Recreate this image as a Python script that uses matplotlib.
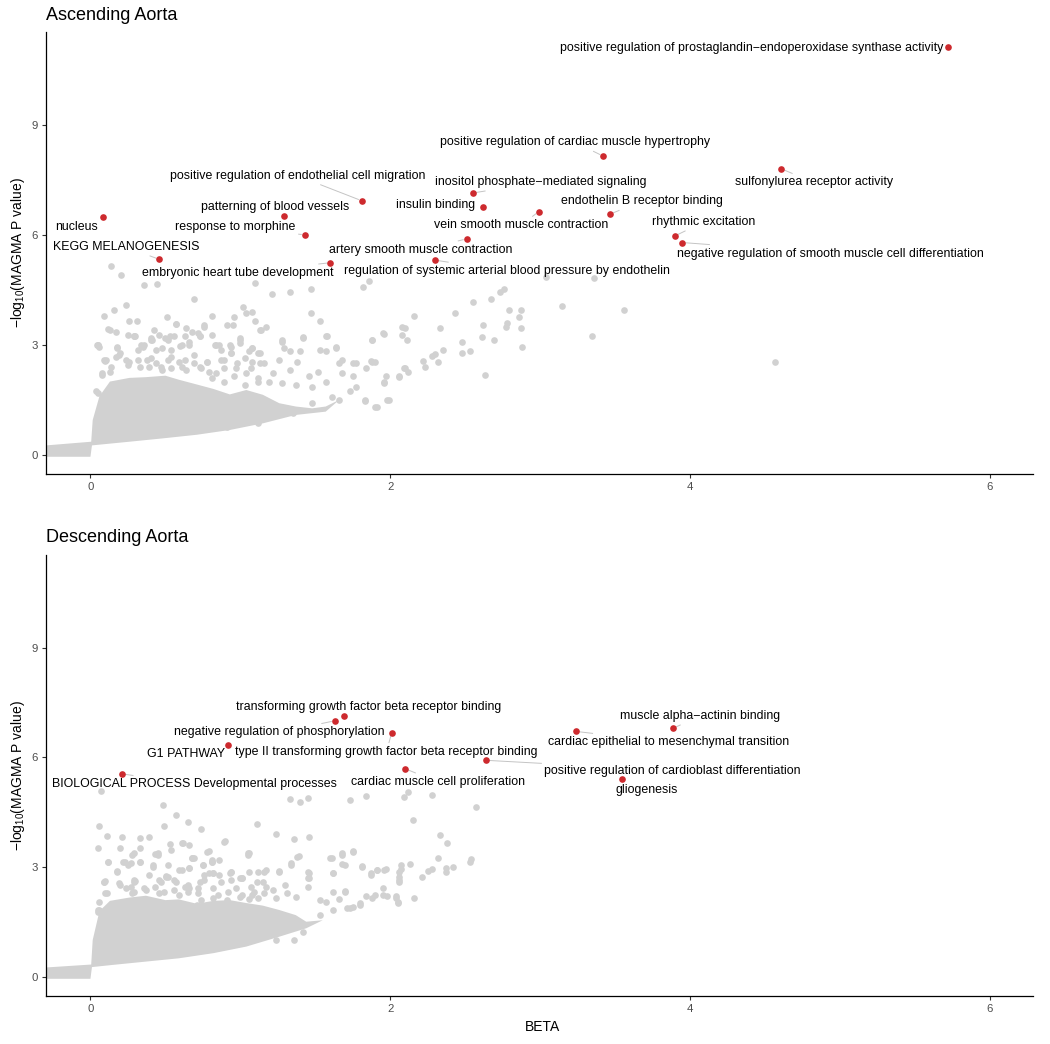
import matplotlib
matplotlib.use('Agg')
import matplotlib.pyplot as plt
import numpy as np
from matplotlib.lines import Line2D

plt.rcParams['font.family'] = ['Liberation Sans', 'DejaVu Sans']
plt.rcParams['mathtext.default'] = 'regular'

# ---------------- data ----------------
panel_titles = ["Ascending Aorta", "Descending Aorta"]
x_ticks = [0, 2, 4, 6]
y_ticks = [0, 3, 6, 9]

# Ascending aorta: highlighted gene sets
asc_terms = [
    "positive regulation of prostaglandin\u2212endoperoxidase synthase activity",
    "positive regulation of cardiac muscle hypertrophy",
    "sulfonylurea receptor activity",
    "positive regulation of endothelial cell migration",
    "inositol phosphate\u2212mediated signaling",
    "insulin binding",
    "endothelin B receptor binding",
    "vein smooth muscle contraction",
    "nucleus",
    "patterning of blood vessels",
    "response to morphine",
    "rhythmic excitation",
    "negative regulation of smooth muscle cell differentiation",
    "artery smooth muscle contraction",
    "KEGG MELANOGENESIS",
    "embryonic heart tube development",
    "regulation of systemic arterial blood pressure by endothelin",
]
asc_beta = [5.72, 3.42, 4.61, 1.81, 2.55, 2.62, 3.47, 2.99, 0.087, 1.29, 1.43, 3.90, 3.95, 2.51, 0.46, 1.60, 2.30]
asc_logp = [11.11, 8.15, 7.80, 6.93, 7.14, 6.75, 6.57, 6.63, 6.48, 6.52, 6.00, 5.97, 5.79, 5.89, 5.33, 5.24, 5.31]

# Descending aorta: highlighted gene sets
desc_terms = [
    "transforming growth factor beta receptor binding",
    "negative regulation of phosphorylation",
    "type II transforming growth factor beta receptor binding",
    "G1 PATHWAY",
    "BIOLOGICAL PROCESS Developmental processes",
    "cardiac muscle cell proliferation",
    "positive regulation of cardioblast differentiation",
    "cardiac epithelial to mesenchymal transition",
    "muscle alpha\u2212actinin binding",
    "gliogenesis",
]
desc_beta = [1.69, 1.63, 2.01, 0.92, 0.21, 2.10, 2.64, 3.24, 3.89, 3.55]
desc_logp = [7.13, 7.00, 6.67, 6.35, 5.55, 5.69, 5.92, 6.71, 6.80, 5.41]

# dense core of the background gene-set cloud (outline)
asc_core_beta = [-0.295, 0.0, 0.01, 0.26, 0.48, 0.71, 0.93, 1.15, 1.37, 1.57, 1.66,
                 1.57, 1.48, 1.37, 1.26, 1.15, 1.04, 0.93, 0.82, 0.71, 0.59, 0.50,
                 0.37, 0.26, 0.13, 0.06, 0.015, 0.005, -0.295]
asc_core_logp = [-0.05, -0.05, 0.26, 0.36, 0.45, 0.55, 0.68, 0.86, 1.09, 1.18, 1.50,
                 1.32, 1.27, 1.32, 1.41, 1.64, 1.77, 1.65, 1.80, 1.92, 2.05, 2.16,
                 2.12, 2.10, 2.00, 1.60, 0.95, 0.36, 0.26]
desc_core_beta = [-0.295, 0.0, 0.01, 0.15, 0.37, 0.59, 0.82, 1.04, 1.26, 1.44, 1.55,
                  1.44, 1.37, 1.26, 1.15, 1.04, 0.93, 0.82, 0.71, 0.59, 0.50, 0.37,
                  0.26, 0.13, 0.06, 0.015, 0.005, -0.295]
desc_core_logp = [-0.05, -0.05, 0.27, 0.33, 0.42, 0.51, 0.65, 0.83, 1.10, 1.33, 1.55,
                  1.51, 1.69, 1.83, 1.95, 2.02, 2.10, 2.08, 2.00, 2.12, 2.10, 2.22,
                  2.17, 2.08, 1.80, 1.01, 0.34, 0.26]

# scattered background gene sets
asc_bg_beta = [0.136, 0.207, 0.36, 0.445, 1.10, 1.21, 1.33, 1.475, 1.82, 1.86, 0.69, 0.24, 0.09, 0.154,
               1.02, 1.08, 1.04, 1.47, 1.53, 2.16, 0.51, 0.81, 0.96, 1.10, 0.26, 0.31, 0.57, 0.12,
               0.17, 0.425, 0.68, 0.76, 0.91, 1.13, 1.42, 1.58, 1.88, 1.96, 2.10, 2.08, 2.11, 2.33,
               2.43, 2.55, 2.67, 2.73, 2.76, 3.04, 3.36, 3.15, 3.35, 2.79, 2.87, 2.86, 2.78, 2.77,
               2.87, 2.62, 2.61, 2.69, 2.88, 2.48, 2.53, 2.48, 2.63, 2.35, 2.30, 2.28, 2.32, 2.22,
               2.23, 2.12, 2.09, 2.06, 1.97, 1.96, 1.99, 1.90, 1.83, 1.84, 1.90, 1.87, 1.77, 1.64,
               1.68, 3.56, 4.57, 0.047, 0.06, 0.10, 0.18, 0.30, 0.35, 0.41, 0.50, 0.60, 0.73, 0.86,
               0.94, 0.995, 1.06, 1.13, 1.28, 1.29,
               0.13, 0.05, 0.25, 0.29, 0.34, 0.405, 0.46, 0.53, 0.57, 0.64, 0.66, 0.72, 0.76, 0.81,
               0.84, 0.95, 0.995, 1.08, 1.14, 1.17, 1.28, 1.33, 1.40, 1.42, 1.53, 1.57, 1.57, 1.64,
               0.09, 0.14, 0.08, 0.19, 0.26, 0.33, 0.38, 0.44, 0.48, 0.54, 0.59, 0.64, 0.69, 0.73,
               0.78, 0.84, 0.89, 0.94, 0.97, 1.04, 1.08, 1.16, 1.22, 1.26, 1.33, 1.38, 1.46, 1.52,
               1.57, 1.66, 1.68, 1.75, 1.75, 1.37, 1.48, 1.28, 1.19, 1.12, 1.61, 1.66, 1.48, 1.35,
               1.12, 0.91, 0.04, 1.73, 1.77, 1.83, 1.91, 1.98, 1.96, 2.06, 2.10, 1.88, 1.95, 1.88,
               2.08,
               0.05, 0.18, 0.20, 0.29, 0.32, 0.36, 0.405, 0.44, 0.48, 0.54, 0.52, 0.56, 0.63, 0.61,
               0.66, 0.73, 0.83, 0.87, 0.93, 0.995, 1.08, 1.12, 0.105, 0.17, 0.24, 0.25, 0.32, 0.405,
               0.39, 0.47, 0.52, 0.54, 0.61, 0.63, 0.69, 0.74, 0.78, 0.79, 0.87, 0.89, 0.94, 0.98,
               1.03, 1.07, 1.13, 0.81, 0.89, 0.96, 1.03, 1.12, 0.13, 0.08, 0.05]
asc_bg_logp = [5.16, 4.91, 4.63, 4.65, 4.69, 4.38, 4.43, 4.51, 4.59, 4.75, 4.25, 4.09, 3.80, 3.95,
               4.04, 3.91, 3.86, 3.86, 3.64, 3.79, 3.75, 3.79, 3.76, 3.66, 3.64, 3.64, 3.56, 3.42,
               3.36, 3.41, 3.35, 3.55, 3.55, 3.41, 3.21, 3.23, 3.13, 3.30, 3.47, 3.27, 3.14, 3.45,
               3.88, 4.16, 4.24, 4.43, 4.52, 4.85, 4.82, 4.07, 3.23, 3.96, 3.95, 3.77, 3.60, 3.50,
               3.47, 3.55, 3.22, 3.14, 2.93, 3.08, 2.84, 2.77, 2.17, 2.87, 2.76, 2.70, 2.54, 2.56,
               2.39, 2.27, 2.36, 2.12, 2.15, 1.97, 1.50, 1.32, 1.48, 2.36, 2.52, 2.56, 2.50, 2.93,
               2.59, 3.94, 2.53, 3.01, 2.95, 2.57, 2.91, 3.23, 2.95, 3.14, 3.18, 2.98, 3.23, 3.00,
               2.95, 3.05, 2.82, 2.77, 3.12, 2.91,
               3.41, 3.00, 3.27, 3.23, 3.00, 3.18, 3.27, 3.23, 3.57, 3.45, 3.00, 3.32, 3.50, 3.27,
               3.00, 3.55, 3.14, 2.91, 3.41, 3.50, 3.09, 2.82, 2.82, 3.18, 2.86, 2.82, 3.23, 2.91,
               2.59, 2.41, 2.23, 2.73, 2.54, 2.41, 2.59, 2.50, 2.32, 2.68, 2.54, 2.32, 2.73, 2.41,
               2.54, 2.23, 2.59, 2.77, 2.36, 2.23, 2.54, 2.50, 2.23, 2.59, 2.32, 2.54, 2.14, 2.27,
               2.00, 2.50, 2.23, 2.14, 2.50, 1.91, 1.86, 1.95, 2.00, 2.09, 1.59, 1.50, 1.41, 1.14,
               0.86, 0.77, 1.73, 1.73, 1.86, 1.50, 1.32, 1.50, 2.00, 2.14, 2.36, 2.54, 3.32, 3.14,
               3.50,
               3.00, 2.93, 2.77, 3.23, 2.86, 3.00, 3.14, 2.86, 2.91, 2.86, 3.14, 3.23, 3.23, 3.00,
               3.09, 3.23, 3.00, 2.86, 3.00, 3.18, 2.91, 2.77, 2.59, 2.68, 2.59, 2.45, 2.59, 2.64,
               2.41, 2.41, 2.59, 2.36, 2.41, 2.59, 2.50, 2.36, 2.54, 2.27, 2.59, 2.36, 2.77, 2.50,
               2.64, 2.36, 2.50, 2.09, 2.00, 2.14, 1.91, 2.00, 2.27, 2.18, 1.68]

desc_bg_beta = [0.07, 0.485, 0.57, 0.65, 0.74, 0.06, 0.49, 1.11, 1.33, 1.40, 1.45, 1.73, 1.84, 2.09,
                2.12, 2.28, 2.57, 2.15, 2.33, 2.38, 2.32, 2.53, 2.54, 2.42, 2.37, 2.37, 2.28, 2.25,
                2.21, 2.16, 2.13, 2.07, 2.06, 2.06, 1.97, 1.91, 1.87, 1.81, 1.75, 1.68, 1.68, 1.60,
                1.62, 1.70, 1.66, 1.95, 1.98, 2.04, 2.05, 1.90, 1.84, 1.80, 1.75, 1.73, 1.36, 1.46,
                1.24, 1.39, 1.34, 1.46, 1.45, 1.26, 1.17, 1.05, 1.00, 0.90, 0.79, 0.86, 0.81, 0.68,
                0.66, 0.61, 0.53, 0.54, 0.45, 0.43, 0.39, 0.33, 0.21, 0.11, 0.05, 0.12, 0.20, 0.22,
                0.29, 0.33, 0.33, 0.18, 0.10, 0.30, 0.42, 0.505, 0.79, 0.93, 1.06, 0.06, 0.11,
                0.62, 0.89, 0.78, 1.06, 0.28, 0.27, 0.45, 0.52, 0.59, 0.66, 0.69, 0.75, 0.81,
                0.09, 0.19, 0.27, 0.29, 0.39, 0.46, 0.52, 0.57, 0.65, 0.73, 0.76, 0.82, 0.86, 0.94,
                0.94, 1.01, 1.06, 1.11, 1.16, 1.17, 1.22, 1.26, 1.30, 1.34, 1.38, 1.45, 1.46, 1.45,
                1.37, 1.31, 1.24, 1.16, 1.08, 0.995, 0.91, 0.82, 0.72, 0.66, 0.59, 0.46, 0.37, 0.28,
                0.10, 0.05, 1.53, 1.57, 1.62, 1.70, 1.61, 1.62, 1.68, 1.75, 1.70, 1.81, 1.87, 1.91,
                1.96, 2.06, 2.06, 2.07, 1.36, 1.42, 1.24, 1.53, 1.62, 1.71, 1.80, 1.88, 1.95, 2.04,
                2.05,
                0.12, 0.23, 0.33, 0.18, 0.25, 0.42, 0.505, 0.56, 0.61, 0.66, 0.68, 0.75, 0.81, 0.82,
                0.87, 0.94, 1.01, 1.05, 1.07, 1.12, 1.15, 0.09, 0.20, 0.29, 0.24, 0.29, 0.36, 0.43,
                0.47, 0.49, 0.56, 0.63, 0.65, 0.72, 0.76, 0.82, 0.85, 0.92, 0.97, 1.01, 1.09, 1.12,
                0.06, 0.05, 0.71, 0.74]
desc_bg_logp = [5.09, 4.70, 4.43, 4.24, 4.05, 4.13, 4.12, 4.18, 4.86, 4.77, 4.88, 4.84, 4.94, 4.93,
                5.05, 4.97, 4.64, 4.28, 3.89, 3.65, 3.25, 3.15, 3.22, 3.01, 2.97, 2.88, 2.95, 2.90,
                2.72, 2.17, 3.09, 2.94, 2.74, 2.60, 2.95, 2.92, 2.83, 3.03, 3.45, 3.38, 3.09, 3.25,
                2.85, 2.36, 2.12, 2.42, 2.21, 2.21, 2.04, 2.24, 2.21, 2.01, 1.92, 1.88, 3.77, 3.83,
                3.92, 3.31, 3.11, 2.83, 2.70, 2.90, 2.92, 3.38, 2.71, 3.72, 3.45, 3.20, 3.13, 3.24,
                3.61, 3.67, 3.63, 3.47, 3.38, 3.36, 3.83, 3.81, 3.83, 3.85, 3.52, 3.15, 3.52, 3.15,
                3.38, 3.53, 3.15, 2.90, 2.63, 2.63, 3.06, 2.77, 2.83, 2.85, 2.12, 1.83, 2.30,
                3.65, 3.70, 3.42, 3.38, 3.33, 3.11, 3.33, 3.06, 2.92, 2.97, 3.24, 3.06, 3.15,
                2.60, 2.56, 2.47, 2.65, 2.79, 2.65, 2.74, 2.60, 2.51, 2.60, 2.79, 2.83, 2.79, 2.88,
                2.65, 2.70, 2.88, 2.60, 2.88, 2.47, 2.38, 2.88, 2.51, 3.06, 3.29, 2.88, 2.70, 2.47,
                2.19, 2.29, 2.15, 2.29, 2.24, 2.19, 2.10, 2.15, 2.29, 2.42, 2.24, 2.29, 2.38, 2.29,
                2.29, 1.78, 2.10, 2.06, 2.33, 2.33, 3.24, 2.83, 3.33, 3.42, 3.06, 3.01, 2.79, 2.92,
                2.92, 2.88, 2.65, 3.06, 1.01, 1.24, 1.01, 1.69, 1.83, 1.88, 1.97, 2.15, 2.24, 2.15,
                2.01,
                3.15, 3.15, 3.15, 2.88, 3.06, 3.01, 2.74, 2.65, 2.92, 2.97, 3.24, 3.06, 3.20, 2.83,
                2.60, 2.88, 2.70, 3.33, 2.47, 2.88, 2.60, 2.60, 2.51, 2.60, 2.42, 2.33, 2.42, 2.47,
                2.60, 2.33, 2.38, 2.47, 2.33, 2.42, 2.65, 2.42, 2.24, 2.33, 2.42, 2.24, 2.33, 2.15,
                2.06, 1.83, 1.97, 2.10]

# ---------------- layout (label centres, data units) ----------------
asc_label_pos = [(4.416, 11.10), (3.234, 8.52), (4.826, 7.43), (1.382, 7.61), (3.008, 7.44),
                 (2.302, 6.80), (3.677, 6.91), (2.874, 6.26), (-0.092, 6.21), (1.234, 6.75),
                 (0.968, 6.21), (4.093, 6.35), (4.940, 5.49), (2.206, 5.59), (0.237, 5.67),
                 (0.986, 4.96), (2.779, 5.01)]
desc_label_pos = [(1.855, 7.38), (1.258, 6.68), (1.976, 6.16), (0.638, 6.08), (0.694, 5.26),
                  (2.316, 5.33), (3.885, 5.64), (3.855, 6.41), (4.069, 7.13), (3.710, 5.12)]

GREY = '#D1D1D1'
RED = '#CD2A2E'
SEG = '#C4C4C4'

W, H = 1050, 1044
fig = plt.figure(figsize=(W / 100, H / 100), dpi=100)
L, R = 45.5, 1033
ax1 = fig.add_axes([L / W, 1 - 474 / H, (R - L) / W, (474 - 32) / H])
ax2 = fig.add_axes([L / W, 1 - 996 / H, (R - L) / W, (996 - 555) / H])


def panel(ax, core_x, core_y, bg_x, bg_y, hx, hy, terms, lpos):
    ax.fill(core_x, core_y, color=GREY, lw=0, zorder=1)
    ax.scatter(bg_x, bg_y, s=23, color=GREY, lw=0, zorder=2)
    ax.scatter(hx, hy, s=23, color=RED, lw=0, zorder=4)
    texts = []
    for t, (lx, ly) in zip(terms, lpos):
        texts.append(ax.text(lx, ly, t, ha='center', va='center', fontsize=8.9,
                             color='black', zorder=5))
    ax.set_xlim(-0.30, 6.29)
    ax.set_ylim(-0.52, 11.53)
    ax.set_xticks(x_ticks)
    ax.set_yticks(y_ticks)
    for s in ['top', 'right']:
        ax.spines[s].set_visible(False)
    for s in ['left', 'bottom']:
        ax.spines[s].set_linewidth(0.9)
        ax.spines[s].set_color('black')
    ax.tick_params(length=3.0, width=0.8, color='#333333', labelsize=8.2,
                   labelcolor='#4D4D4D', pad=2.5)
    return texts


t1 = panel(ax1, asc_core_beta, asc_core_logp, asc_bg_beta, asc_bg_logp,
           asc_beta, asc_logp, asc_terms, asc_label_pos)
t2 = panel(ax2, desc_core_beta, desc_core_logp, desc_bg_beta, desc_bg_logp,
           desc_beta, desc_logp, desc_terms, desc_label_pos)

fig.text(46.5 / W, 1 - 15 / H, panel_titles[0], ha='left', va='center', fontsize=13)
fig.text(46.5 / W, 1 - 538 / H, panel_titles[1], ha='left', va='center', fontsize=13)
ylab = '\u2212log$_{10}$(MAGMA P value)'
fig.text(18.5 / W, 1 - 253 / H, ylab, rotation=90, ha='center', va='center', fontsize=10)
fig.text(18.5 / W, 1 - 775.5 / H, ylab, rotation=90, ha='center', va='center', fontsize=10)
fig.text(543 / W, 1 - 1027 / H, 'BETA', ha='center', va='center', fontsize=10)

# leader segments (ggrepel style): from point towards label centre, stopping at label box
fig.canvas.draw()
renderer = fig.canvas.get_renderer()


def segments(ax, texts, hx, hy):
    inv = ax.transData.inverted()
    for txt, x, y in zip(texts, hx, hy):
        bb = txt.get_window_extent(renderer)
        pad = 3
        x0, x1, y0, y1 = bb.x0 - pad, bb.x1 + pad, bb.y0 - pad, bb.y1 + pad
        px, py = ax.transData.transform((x, y))
        cx, cy = (bb.x0 + bb.x1) / 2, (bb.y0 + bb.y1) / 2
        if x0 <= px <= x1 and y0 <= py <= y1:
            continue
        dx, dy = cx - px, cy - py
        ts = []
        if dx != 0:
            for xe in (x0, x1):
                t = (xe - px) / dx
                yy = py + t * dy
                if 0 <= t <= 1 and y0 <= yy <= y1:
                    ts.append(t)
        if dy != 0:
            for ye in (y0, y1):
                t = (ye - py) / dy
                xx = px + t * dx
                if 0 <= t <= 1 and x0 <= xx <= x1:
                    ts.append(t)
        if not ts:
            continue
        t = min(ts)
        ex, ey = px + t * dx, py + t * dy
        length = np.hypot(ex - px, ey - py)
        if length < 6:
            continue
        sx, sy = px + dx / np.hypot(dx, dy) * 3.5, py + dy / np.hypot(dx, dy) * 3.5
        (a, b), (c, d) = inv.transform((sx, sy)), inv.transform((ex, ey))
        ax.add_line(Line2D([a, c], [b, d], color=SEG, lw=0.7, zorder=3))


segments(ax1, t1, asc_beta, asc_logp)
segments(ax2, t2, desc_beta, desc_logp)

fig.savefig('out.png', dpi=100)
